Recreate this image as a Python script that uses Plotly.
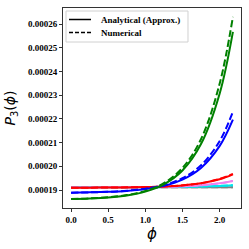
import plotly.graph_objects as go

phi = [0.0, 0.25, 0.5, 0.75, 1.0, 1.25, 1.5, 1.75, 2.0, 2.18]

green_an = [1.862e-4, 1.8644e-4, 1.8688e-4, 1.8773e-4, 1.8935e-4, 1.9242e-4, 1.9826e-4, 2.0938e-4, 2.305e-4, 2.567e-4]
green_num = [1.862e-4, 1.8646e-4, 1.8694e-4, 1.8787e-4, 1.8963e-4, 1.929e-4, 1.9932e-4, 2.1143e-4, 2.3468e-4, 2.630e-4]
blue_an = [1.889e-4, 1.8902e-4, 1.8923e-4, 1.8963e-4, 1.9039e-4, 1.9179e-4, 1.9442e-4, 1.9933e-4, 2.085e-4, 2.197e-4]
blue_num = [1.889e-4, 1.8903e-4, 1.8926e-4, 1.8971e-4, 1.9055e-4, 1.921e-4, 1.95e-4, 2.0043e-4, 2.1057e-4, 2.230e-4]
red_an = [1.910e-4, 1.9102e-4, 1.9105e-4, 1.9112e-4, 1.9124e-4, 1.9148e-4, 1.9194e-4, 1.9283e-4, 1.9452e-4, 1.9663e-4]
red_num = [1.910e-4, 1.9102e-4, 1.9106e-4, 1.9113e-4, 1.9126e-4, 1.9151e-4, 1.9199e-4, 1.9291e-4, 1.9466e-4, 1.9685e-4]
violet_an = [1.911e-4, 1.9111e-4, 1.9113e-4, 1.9117e-4, 1.9124e-4, 1.9136e-4, 1.9159e-4, 1.9203e-4, 1.9287e-4, 1.9385e-4]
cyan_an = [1.9115e-4, 1.9115e-4, 1.9116e-4, 1.9117e-4, 1.912e-4, 1.9124e-4, 1.9132e-4, 1.9147e-4, 1.9175e-4, 1.9205e-4]
gray_an = [1.9115e-4, 1.9115e-4, 1.9115e-4, 1.9115e-4, 1.9116e-4, 1.9116e-4, 1.9116e-4, 1.9117e-4, 1.9117e-4, 1.9118e-4]

legend_labels = ["Analytical (Approx.)", "Numerical"]

series = [
    ("gray", gray_an, gray_an),
    ("#00e5ee", cyan_an, cyan_an),
    ("violet", violet_an, violet_an),
    ("red", red_an, red_num),
    ("blue", blue_an, blue_num),
    ("green", green_an, green_num),
]

fig = go.Figure()
for color, an, num in series:
    fig.add_trace(go.Scatter(x=phi, y=an, mode="lines", line=dict(color=color, width=2, shape="spline"),
                             showlegend=False, hoverinfo="skip"))
    fig.add_trace(go.Scatter(x=phi, y=num, mode="lines",
                             line=dict(color=color, width=2, dash="7px,3px", shape="spline"),
                             showlegend=False, hoverinfo="skip"))

# legend drawn by hand, matplotlib style
shapes = [
    dict(type="rect", xref="paper", yref="paper", x0=0.0169, x1=0.7022, y0=0.83, y1=0.985,
         line=dict(color="#d0d0d0", width=1), fillcolor="rgba(255,255,255,0.8)", layer="above"),
    dict(type="line", xref="paper", yref="paper", x0=0.0337, x1=0.1573, y0=0.9425, y1=0.9425,
         line=dict(color="black", width=1.5), layer="above"),
    dict(type="line", xref="paper", yref="paper", x0=0.0337, x1=0.1573, y0=0.8775, y1=0.8775,
         line=dict(color="black", width=1.5, dash="4px,2px"), layer="above"),
]
legend_font = dict(family="Liberation Serif", size=9, color="black", weight="bold")
annotations = [
    dict(text=legend_labels[0], xref="paper", yref="paper", x=0.205, y=0.9425, xanchor="left", yanchor="middle",
         showarrow=False, font=legend_font),
    dict(text=legend_labels[1], xref="paper", yref="paper", x=0.205, y=0.8775, xanchor="left", yanchor="middle",
         showarrow=False, font=legend_font),
    dict(text="<i>ϕ</i>", xref="paper", yref="paper", x=0.5, y=-0.075, xanchor="center", yanchor="top",
         showarrow=False, font=dict(family="DejaVu Sans", size=15, color="black")),
    dict(text="<i>P</i><sub>3</sub>(<i>ϕ</i>)", xref="paper", yref="paper", x=-0.29, y=0.5,
         xanchor="center", yanchor="middle", textangle=-90,
         showarrow=False, font=dict(family="DejaVu Sans", size=14, color="black")),
]

tickfont = dict(family="Liberation Serif", size=9, color="black", weight="bold")
fig.update_layout(
    width=249, height=249,
    margin=dict(l=63, r=8, t=8, b=41, autoexpand=False),
    paper_bgcolor="white", plot_bgcolor="white",
    showlegend=False,
    xaxis=dict(range=[-0.109, 2.289], tickvals=[0, 0.5, 1.0, 1.5, 2.0], ticktext=["0.0", "0.5", "1.0", "1.5", "2.0"],
               showgrid=False, zeroline=False, showline=True, linecolor="#333333", linewidth=1, mirror=True,
               ticks="outside", ticklen=3, tickcolor="#333333", tickfont=tickfont, automargin=False),
    yaxis=dict(range=[1.8243e-4, 2.6675e-4], dtick=1e-5, tick0=1.9e-4, tickformat=".5f",
               showgrid=False, zeroline=False, showline=True, linecolor="#333333", linewidth=1, mirror=True,
               ticks="outside", ticklen=3, tickcolor="#333333", tickfont=tickfont, automargin=False),
    shapes=shapes,
    annotations=annotations,
)

fig.write_html("out.html", config={"displayModeBar": False},
               post_script="document.body.style.margin='0px';document.body.style.overflow='hidden';")
